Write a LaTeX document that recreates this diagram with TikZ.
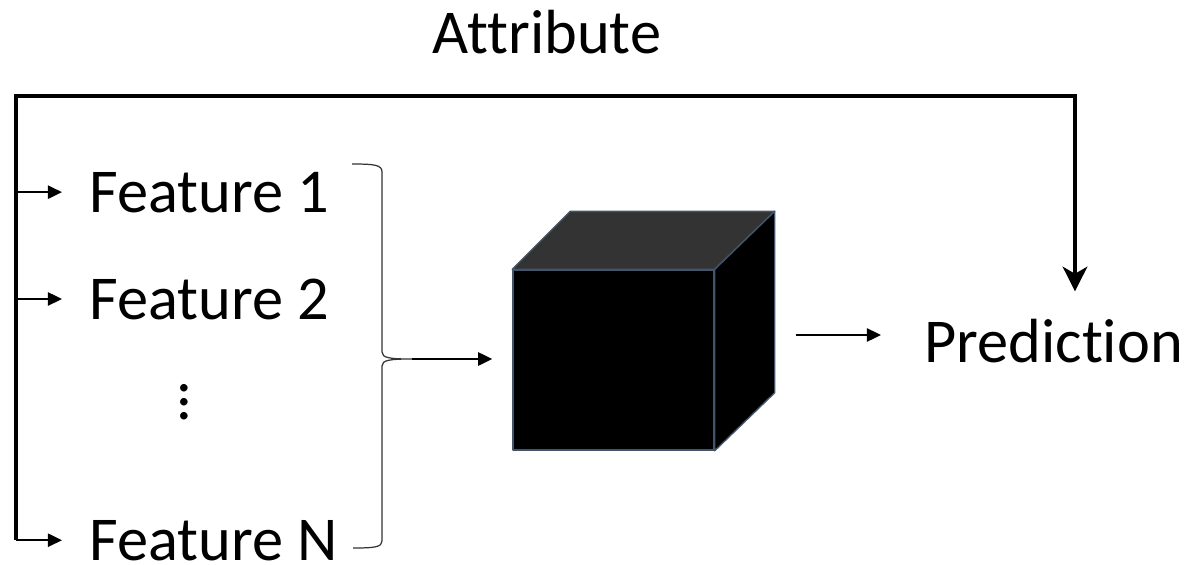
\documentclass[tikz,border=0pt]{standalone}
\usepackage{fontspec}
\setmainfont[RawFeature={-liga,-clig,-dlig}]{Carlito}
\usetikzlibrary{arrows.meta, positioning}
\newcommand{\bigfont}{\fontsize{35.5}{42}\selectfont}
\newcommand{\featdots}{\vbox{\baselineskip8pt\lineskiplimit-\maxdimen\hbox{.}\hbox{.}\hbox{.}}}

\begin{document}
\begin{tikzpicture}[
        label/.style={font=\bigfont, inner sep=0pt},
        feature/.style={label, anchor=base west},
        feed/.style={draw, line width=1.1pt, -{Triangle[length=8pt, width=7.5pt]}},
        frametop/.style={draw, line width=2.8pt, line cap=rect},
        frameside/.style={draw, line width=2pt},
        attrarrow/.style={draw, line width=2pt, -{Stealth[length=14pt, width=14pt, inset=4pt]}},
        brace/.style={draw=black!80, line width=0.7pt},
        cubeface/.style={draw=edge, line width=0.8pt, line join=round},
    ]
    \definecolor{edge}{HTML}{44546A}
    \definecolor{lid}{HTML}{333333}

    \useasboundingbox (0,0) rectangle (23.72,-11.28);

    % 标题与输入特征
    \node[label, anchor=base] (attr) at (10.94,-1.06) {Attribute};
    \node[feature] (f1) at (1.78,-4.24) {Feature 1};
    \node[feature] (f2) at (1.78,-6.38) {Feature 2};
    \node[label] (dots) at (3.68,-8.04) {\featdots};
    \node[feature] (fN) at (1.78,-11.20) {Feature N};

    % 黑盒
    \node[rectangle, cubeface, fill=black, minimum width=4.02cm, minimum height=3.6cm] (box) at (12.27,-7.2) {};
    \filldraw[cubeface, fill=lid] (box.north west) -- ++(1.16,1.16) -- ([shift={(1.2,1.16)}]box.north east) -- (box.north east) -- cycle;
    \filldraw[cubeface, fill=black] (box.north east) -- ++(1.2,1.16) -- ([shift={(1.2,1.16)}]box.south east) -- (box.south east) -- cycle;

    % 输出
    \node[label, anchor=base west] (pred) at (18.48,-7.24) {Prediction};

    % 属性线
    \coordinate (corner) at (0.32,-1.92);
    \coordinate (drop) at (21.50,-1.92);
    \draw[frametop] (corner) -- (drop);
    \draw[frameside] (corner) -- (corner |- fN);
    \draw[attrarrow, shorten >=0.54cm] (drop) -- (drop |- pred.north);

    % 特征箭头
    \foreach \f in {f1, f2, fN}
        \draw[feed, shorten >=0.54cm] (corner |- \f) -- (\f.west |- \f);

    % 右花括号
    \coordinate (tip) at (8.24,-7.18);
    \draw[brace] (7.04,-3.28) .. controls (7.5,-3.28) and (7.64,-3.30) .. (7.64,-3.44)
        -- (7.64,-7.04) .. controls (7.64,-7.16) and (7.8,-7.18) .. (tip)
        .. controls (7.8,-7.18) and (7.64,-7.20) .. (7.64,-7.32)
        -- (7.64,-10.82) .. controls (7.64,-10.94) and (7.5,-10.96) .. (7.06,-10.96);
    \draw[feed, shorten >=0.4cm] (tip) -- (tip -| box.west);

    % 盒子到预测
    \coordinate (out) at ([shift={(1.62,0.5)}]box.east);
    \draw[feed, shorten >=0.86cm] (out) -- (out -| pred.west);

\end{tikzpicture}
\end{document}
